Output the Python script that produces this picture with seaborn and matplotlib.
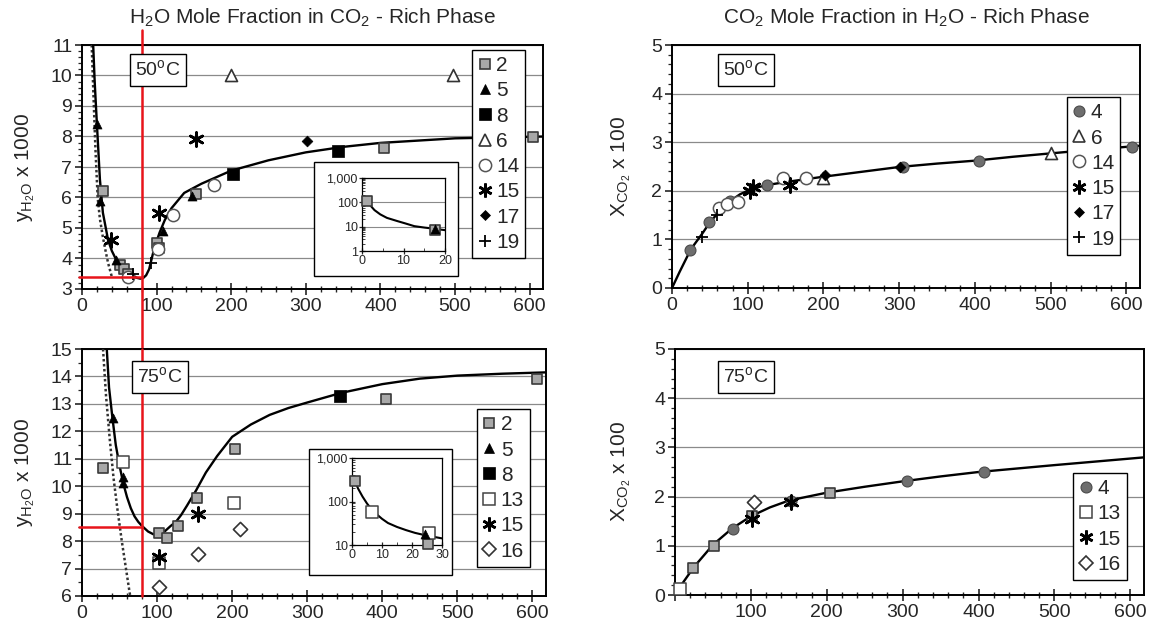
import matplotlib
matplotlib.use("Agg")
import numpy as np
import seaborn as sns
import matplotlib.pyplot as plt
from matplotlib.lines import Line2D
from matplotlib.patches import Rectangle
from matplotlib.ticker import MultipleLocator, FixedLocator, FuncFormatter, NullFormatter

# ---------------- data (pressure in bar) ----------------
# top left: H2O in CO2-rich phase, 50 C  (y_H2O x 1000)
tl_fit_p = [15, 17, 20, 24, 28, 35, 40, 48, 55, 61, 68, 73, 78, 82, 86, 90, 97, 104, 111, 120, 137,
            160, 200, 250, 300, 350, 400, 500, 620]
tl_fit_y = [11.0, 9.8, 8.4, 6.6, 5.5, 4.6, 4.25, 3.85, 3.7, 3.58, 3.45, 3.37, 3.34, 3.36, 3.45, 3.65,
            4.35, 4.85, 5.26, 5.65, 6.15, 6.45, 6.88, 7.22, 7.48, 7.66, 7.79, 7.94, 8.0]
tl_ideal_p = [13, 15, 18, 21, 24, 28, 32, 35, 40]
tl_ideal_y = [11.0, 9.6, 7.6, 6.0, 5.3, 4.7, 4.2, 3.85, 3.4]
tl_labels = ["2", "5", "8", "6", "14", "15", "17", "19"]
tl_p = [[28, 51, 56, 62, 101, 103, 153, 405, 605],
        [20, 24, 46, 108, 148],
        [203, 343],
        [200, 498],
        [62, 102, 122, 177],
        [39, 103, 153],
        [302],
        [68, 92]]
tl_y = [[6.2, 3.8, 3.65, 3.5, 4.5, 4.35, 6.1, 7.62, 7.97],
        [8.4, 5.9, 3.95, 4.9, 6.05],
        [6.78, 7.52],
        [10.0, 10.0],
        [3.4, 4.3, 5.43, 6.42],
        [4.62, 5.5, 7.92],
        [7.85],
        [3.5, 3.85]]
# inset (low pressure, log scale)
tli_fit_p = [1, 2, 3, 4.4, 6, 8.5, 10.5, 12.6, 15, 17.5, 20.5]
tli_fit_y = [115, 75, 48, 32, 23, 17, 13.5, 10.5, 9.2, 8.2, 7.0]
tli_labels = ["2", "2", "5"]
tli_p = [[1.1], [17.5], [17.5]]
tli_y = [[111], [7.6], [7.9]]

# bottom left: H2O in CO2-rich phase, 75 C
bl_fit_p = [33, 36, 40.5, 45, 50, 55, 60, 65, 70, 75, 80, 88, 95, 103, 110, 118, 125, 132, 140, 152,
            165, 180, 200, 225, 250, 275, 300, 345, 400, 450, 500, 560, 620]
bl_fit_y = [15.0, 13.6, 12.5, 11.5, 10.75, 10.1, 9.6, 9.2, 8.9, 8.7, 8.55, 8.35, 8.25, 8.25, 8.35, 8.55,
            8.7, 8.95, 9.3, 9.85, 10.5, 11.1, 11.8, 12.25, 12.6, 12.85, 13.05, 13.4, 13.72, 13.92, 14.03,
            14.1, 14.15]
bl_ideal_p = [28, 32, 37, 42, 47, 53, 58, 63, 66]
bl_ideal_y = [15.0, 13.3, 11.7, 10.3, 9.2, 8.0, 7.1, 6.2, 5.7]
bl_labels = ["2", "5", "8", "13", "15", "16"]
bl_p = [[28, 102, 113, 128, 153, 204, 405, 606],
        [41, 54, 55],
        [344],
        [55, 102, 203],
        [102, 154],
        [102, 154, 210]]
bl_y = [[10.65, 8.3, 8.12, 8.55, 9.57, 11.35, 13.18, 13.9],
        [12.5, 10.35, 10.1],
        [13.28],
        [10.9, 7.2, 9.38],
        [7.42, 9.0],
        [6.32, 7.53, 8.44]]
bli_fit_p = [1, 2, 3.5, 5, 7, 10, 12, 15, 18, 21, 24, 27, 30]
bli_fit_y = [300, 200, 130, 90, 60, 40, 32, 26, 22, 19, 17, 15.5, 14.2]
bli_labels = ["2", "13", "5"]
bli_p = [[1.1, 25.2], [6.8, 25.8], [24.4]]
bli_y = [[296, 10.5], [57, 19], [18]]

# top right: CO2 in H2O-rich phase, 50 C  (x_CO2 x 100)
tr_fit_p = [0, 10, 25, 40, 50, 65, 75, 90, 100, 115, 130, 150, 200, 250, 300, 350, 400, 450, 500, 550, 620]
tr_fit_y = [0, 0.33, 0.8, 1.12, 1.35, 1.62, 1.77, 1.93, 2.0, 2.08, 2.13, 2.18, 2.29, 2.39, 2.49, 2.56,
            2.62, 2.7, 2.77, 2.84, 2.93]
tr_labels = ["4", "6", "14", "15", "17", "19"]
tr_p = [[24, 49, 76, 125, 305, 405, 608],
        [200, 500],
        [62, 72, 87, 146, 177],
        [103, 107, 156],
        [202, 301],
        [40, 60]]
tr_y = [[0.78, 1.36, 1.8, 2.12, 2.5, 2.62, 2.9],
        [2.26, 2.78],
        [1.65, 1.72, 1.77, 2.26, 2.26],
        [2.0, 2.07, 2.12],
        [2.33, 2.49],
        [1.05, 1.5]]

# bottom right: CO2 in H2O-rich phase, 75 C
br_fit_p = [0, 10, 25, 50, 75, 100, 125, 150, 200, 250, 300, 350, 400, 450, 500, 560, 620]
br_fit_y = [0, 0.24, 0.57, 1.02, 1.35, 1.6, 1.78, 1.92, 2.08, 2.2, 2.31, 2.41, 2.5, 2.57, 2.64, 2.72, 2.8]
br_labels = ["2", "4", "13", "15", "16"]
br_p = [[24, 51, 101, 204], [76, 153, 306, 407], [7], [102, 153], [104]]
br_y = [[0.55, 1.0, 1.6, 2.08], [1.34, 1.92, 2.31, 2.5], [0.12], [1.55, 1.9], [1.9]]
br_legend = ["4", "13", "15", "16"]

red_p = 80
red_y_tl = 3.38
red_y_bl = 8.5

# ---------------- styles ----------------
MARK = {
    "2": dict(marker="s", s=62, color="#a8a8a8", edgecolor="#3a3a3a", linewidth=1.2),
    "5": dict(marker="^", s=42, color="black", edgecolor="black", linewidth=0.5),
    "8": dict(marker="s", s=66, color="black", edgecolor="black", linewidth=0.5),
    "6": dict(marker="^", s=75, color="white", edgecolor="#333333", linewidth=1.2),
    "14": dict(marker="o", s=78, color="white", edgecolor="#555555", linewidth=1.1),
    "15": dict(marker=(6, 2, 0), s=100, color="black", linewidth=1.9),
    "17": dict(marker="D", s=30, color="black", edgecolor="black", linewidth=0.5),
    "19": dict(marker="+", s=80, color="black", linewidth=1.3),
    "4": dict(marker="o", s=62, color="#6e6e6e", edgecolor="#4a4a4a", linewidth=0.8),
    "13": dict(marker="s", s=78, color="white", edgecolor="#444444", linewidth=1.1),
    "16": dict(marker="D", s=52, color="white", edgecolor="#333333", linewidth=1.2),
}

sns.set_style("white")
plt.rcParams['font.family'] = ['Liberation Sans', 'DejaVu Sans']
plt.rcParams['axes.linewidth'] = 1.3

W, H = 1152, 628
fig = plt.figure(figsize=(W / 100, H / 100), dpi=100)


def px_rect(x0, y0, x1, y1):
    return [x0 / W, 1 - y1 / H, (x1 - x0) / W, (y1 - y0) / H]


def draw_points(ax, labels, ps, ys, scale=1.0):
    for lab, p, y in zip(labels, ps, ys):
        st = dict(MARK[lab])
        st["s"] = st["s"] * scale
        sns.scatterplot(x=p, y=y, ax=ax, zorder=4, clip_on=False, legend=False, **st)


def add_legend(ax, labels, anchor):
    handles = []
    for lab in labels:
        st = MARK[lab]
        handles.append(Line2D([], [], linestyle="none", marker=st["marker"], markersize=np.sqrt(st["s"]),
                              markerfacecolor=st["color"], markeredgecolor=st.get("edgecolor", st["color"]),
                              markeredgewidth=st["linewidth"]))
    leg = ax.legend(handles, labels, loc="upper left", bbox_to_anchor=anchor, borderaxespad=0,
                    fontsize=15, handlelength=0.6, handletextpad=0.25, labelspacing=0.3,
                    borderpad=0.3, frameon=True, fancybox=False, framealpha=1)
    leg.get_frame().set_edgecolor("black")
    leg.get_frame().set_linewidth(1.0)
    leg.set_zorder(6)


def setup_main(ax, ymin, ymax, yminor, hide_x0=False):
    ax.set_xlim(0, 618)
    ax.set_ylim(ymin, ymax)
    ax.xaxis.set_major_locator(MultipleLocator(100))
    ax.xaxis.set_minor_locator(MultipleLocator(20))
    ax.yaxis.set_major_locator(MultipleLocator(1))
    ax.yaxis.set_minor_locator(MultipleLocator(yminor))
    ax.grid(axis="y", which="major", color="#8a8a8a", lw=0.9)
    ax.tick_params(axis="x", which="major", direction="inout", length=9, width=1.2, labelsize=14, pad=2,
                   bottom=True)
    ax.tick_params(axis="x", which="minor", direction="inout", length=5, width=1.0, bottom=True)
    ax.tick_params(axis="y", which="major", direction="out", length=5, width=1.2, labelsize=14, pad=2,
                   left=True)
    ax.tick_params(axis="y", which="minor", direction="out", length=3, width=0.9, left=True)
    if hide_x0:
        ax.xaxis.set_major_formatter(FuncFormatter(lambda v, _: "" if v == 0 else f"{v:.0f}"))
    for sp in ax.spines.values():
        sp.set_color("black")
        sp.set_linewidth(1.4)


def temp_box(ax, text, x, y):
    ax.text(x, y, text, transform=ax.transAxes, ha="center", va="center", fontsize=14, zorder=7,
            bbox=dict(boxstyle="square,pad=0.28", fc="white", ec="black", lw=1.0))


def setup_inset(ax, ymin, xmax, xticks, grid):
    ax.set_yscale("log")
    ax.set_ylim(ymin, 1000)
    ax.set_xlim(0, xmax)
    ax.set_facecolor("white")
    ax.yaxis.set_major_locator(FixedLocator([v for v in [1, 10, 100, 1000] if v >= ymin]))
    ax.yaxis.set_major_formatter(FuncFormatter(lambda v, _: f"{v:,.0f}"))
    ax.yaxis.set_minor_formatter(NullFormatter())
    ax.xaxis.set_major_locator(FixedLocator(xticks))
    ax.xaxis.set_minor_locator(MultipleLocator(5))
    ax.tick_params(axis="both", which="major", direction="inout", length=4, width=0.9, labelsize=9, pad=1,
                   left=True, bottom=True)
    ax.tick_params(axis="both", which="minor", direction="in", length=2, width=0.6, left=True, bottom=True)
    if grid:
        ax.grid(axis="y", which="major", color="#8a8a8a", lw=0.8)
    for sp in ax.spines.values():
        sp.set_color("black")
        sp.set_linewidth(0.9)


ylab_h2o = r"$\mathregular{y_{H_2O}}$ x 1000"
ylab_co2 = r"$\mathregular{X_{CO_2}}$ x 100"

# ---------------- top left ----------------
ax_tl = fig.add_axes(px_rect(82, 45, 543, 289))
setup_main(ax_tl, 3, 11, 0.2)
sns.lineplot(x=tl_ideal_p, y=tl_ideal_y, ax=ax_tl, color="#333333", lw=1.8, linestyle=(0, (1, 1)),
             estimator=None, sort=False, zorder=3)
sns.lineplot(x=tl_fit_p, y=tl_fit_y, ax=ax_tl, color="black", lw=1.7, estimator=None, sort=False, zorder=3)
draw_points(ax_tl, tl_labels, tl_p, tl_y)
add_legend(ax_tl, tl_labels, (0.846, 0.98))
temp_box(ax_tl, r"50$^\mathregular{o}$C", 0.165, 0.898)
ax_tl.set_ylabel(ylab_h2o, fontsize=15)
ax_tl.yaxis.set_label_coords(-0.098, 0.5)
ax_tl.axvline(red_p, ymin=-0.246, ymax=1.061, color="#e8141a", lw=1.8, clip_on=False, zorder=5)
ax_tl.plot([-4, red_p], [red_y_tl, red_y_tl], color="#e8141a", lw=1.8, clip_on=False, zorder=5)

fig.add_artist(Rectangle((314 / W, 1 - 276 / H), 144 / W, 114 / H, transform=fig.transFigure,
                         fc="white", ec="black", lw=1.0, zorder=2))
ax_tli = fig.add_axes(px_rect(362, 178, 445, 251), zorder=3)
setup_inset(ax_tli, 1, 20, [0, 10, 20], True)
sns.lineplot(x=tli_fit_p, y=tli_fit_y, ax=ax_tli, color="black", lw=1.5, estimator=None, sort=False)
draw_points(ax_tli, tli_labels, tli_p, tli_y, scale=1.0)

# ---------------- bottom left ----------------
ax_bl = fig.add_axes(px_rect(82, 349, 546, 596))
setup_main(ax_bl, 6, 15, 0.5)
sns.lineplot(x=bl_ideal_p, y=bl_ideal_y, ax=ax_bl, color="#333333", lw=1.8, linestyle=(0, (1, 1)),
             estimator=None, sort=False, zorder=3)
sns.lineplot(x=bl_fit_p, y=bl_fit_y, ax=ax_bl, color="black", lw=1.7, estimator=None, sort=False, zorder=3)
draw_points(ax_bl, bl_labels, bl_p, bl_y)
add_legend(ax_bl, bl_labels, (0.851, 0.757))
temp_box(ax_bl, r"75$^\mathregular{o}$C", 0.168, 0.887)
ax_bl.set_ylabel(ylab_h2o, fontsize=15)
ax_bl.yaxis.set_label_coords(-0.097, 0.5)
ax_bl.axvline(red_p, ymin=0, ymax=1, color="#e8141a", lw=1.8, clip_on=False, zorder=5)
ax_bl.plot([-4, red_p], [red_y_bl, red_y_bl], color="#e8141a", lw=1.8, clip_on=False, zorder=5)

fig.add_artist(Rectangle((309 / W, 1 - 575 / H), 143 / W, 126 / H, transform=fig.transFigure,
                         fc="white", ec="black", lw=1.0, zorder=2))
ax_bli = fig.add_axes(px_rect(352, 458, 442, 545), zorder=3)
setup_inset(ax_bli, 10, 30, [0, 10, 20, 30], False)
sns.lineplot(x=bli_fit_p, y=bli_fit_y, ax=ax_bli, color="black", lw=1.5, estimator=None, sort=False)
draw_points(ax_bli, bli_labels, bli_p, bli_y, scale=1.0)

# ---------------- top right ----------------
ax_tr = fig.add_axes(px_rect(672, 45, 1140, 288))
setup_main(ax_tr, 0, 5, 0.2)
sns.lineplot(x=tr_fit_p, y=tr_fit_y, ax=ax_tr, color="black", lw=1.7, estimator=None, sort=False, zorder=3)
draw_points(ax_tr, tr_labels, tr_p, tr_y)
add_legend(ax_tr, tr_labels, (0.844, 0.786))
temp_box(ax_tr, r"50$^\mathregular{o}$C", 0.158, 0.897)
ax_tr.set_ylabel(ylab_co2, fontsize=15)
ax_tr.yaxis.set_label_coords(-0.083, 0.5)

# ---------------- bottom right ----------------
ax_br = fig.add_axes(px_rect(675, 349, 1144, 595))
setup_main(ax_br, 0, 5, 0.2, hide_x0=True)
sns.lineplot(x=br_fit_p, y=br_fit_y, ax=ax_br, color="black", lw=1.7, estimator=None, sort=False, zorder=3)
draw_points(ax_br, br_labels, br_p, br_y)
add_legend(ax_br, br_legend, (0.849, 0.496))
temp_box(ax_br, r"75$^\mathregular{o}$C", 0.151, 0.886)
ax_br.set_ylabel(ylab_co2, fontsize=15)
ax_br.yaxis.set_label_coords(-0.090, 0.5)

# titles
fig.text(312 / W, 1 - 18 / H, r"H$_\mathregular{2}$O Mole Fraction in CO$_\mathregular{2}$ - Rich Phase",
         ha="center", va="center", fontsize=15)
fig.text(906 / W, 1 - 18 / H, r"CO$_\mathregular{2}$ Mole Fraction in H$_\mathregular{2}$O - Rich Phase",
         ha="center", va="center", fontsize=15)

fig.savefig("out.png", dpi=100)
